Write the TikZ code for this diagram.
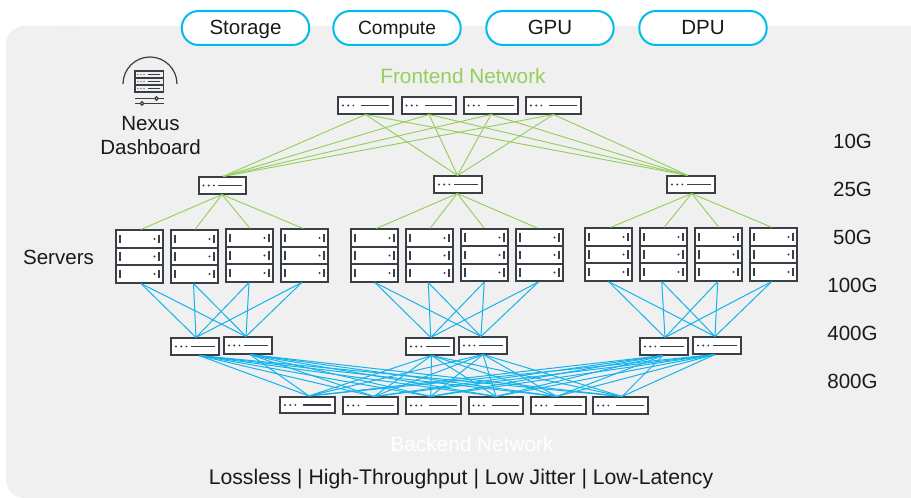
\documentclass[tikz,border=0pt]{standalone}
\usepackage{fontspec}
\setmainfont{Liberation Sans}
\definecolor{panel}{HTML}{F0F0F0}
\definecolor{pillc}{HTML}{00BCEB}
\definecolor{greenl}{HTML}{94CF5C}
\definecolor{bluel}{HTML}{14B3EC}
\definecolor{frameg}{HTML}{3A3F45}
\definecolor{ink}{HTML}{1A1A1A}
\tikzset{
 pill/.style={draw=pillc,line width=1.5pt,fill=white,rounded corners=12.5pt,minimum width=95.5pt,minimum height=25.5pt,inner sep=0pt,font=\fontsize{15.4}{17}\selectfont,text=ink,text height=11pt,text depth=1.2pt},
 lbl/.style={font=\fontsize{15.4}{17}\selectfont,text=ink,inner sep=0pt,text height=11pt,text depth=1.2pt},
 swbox/.style={draw=frameg,line width=1.35pt,fill=white,inner sep=0pt},
 unit/.style={swbox,minimum width=35.5pt,minimum height=13pt},
 glink/.style={draw=greenl,line width=0.7pt},
 blink/.style={draw=bluel,line width=0.75pt},
}
\newcommand{\swdraw}[4]{% name cx cy w(px)
 \node[swbox,minimum width=#4*0.75pt-1.2pt,minimum height=12.2pt] (#1) at (#2+0.5,#3) {};
 \fill[frameg] (#1.west)++(4.2pt,0) circle (0.8pt) ++(3.9pt,0) circle (0.8pt) ++(3.9pt,0) circle (0.8pt);
 \draw[frameg,line width=1.4pt] (#1.east)++(-3.6pt,0) -- ++(-#4*0.37pt,0);
}
\newcommand{\unitdraw}[3]{% name cx cy
 \node[unit] (#1) at (#2,#3) {};
 \draw[frameg,line width=1.2pt] (#1.west)++(3.7pt,-3.1pt) -- ++(0,6.2pt);
 \draw[frameg,line width=1.2pt] (#1.east)++(-3.7pt,-3.1pt) -- ++(0,6.2pt);
 \fill[frameg] (#1.east)++(-7.2pt,0) circle (0.9pt);
}
\newcommand{\rackdraw}[3]{% name cx top
 \unitdraw{#1a}{#2}{#3+9}
 \unitdraw{#1b}{#2}{#3+26.5}
 \unitdraw{#1c}{#2}{#3+44}
}
\begin{document}
\begin{tikzpicture}[x=0.75pt,y=-0.75pt]
\useasboundingbox (0,0) rectangle (911,498);
\fill[panel,rounded corners=14pt] (6,26) rectangle (100,498);
\fill[panel,rounded corners=3pt] (50,26) rectangle (914,520);
\foreach \n/\t/\x in {p1/Storage/245.5,p3/GPU/550,p4/DPU/703}
  \node[pill] (\n) at (\x,28) {\t};
\node[pill,font=\fontsize{14.4}{16}\selectfont] (p2) at (397,28) {Compute};
% top switches
\swdraw{t1}{365}{105.5}{56}
\swdraw{t2}{428.5}{105.5}{56}
\swdraw{t3}{490.5}{105.5}{56}
\swdraw{t4}{553}{105.5}{56}
% mid switches
\swdraw{m1}{222}{185.5}{49}
\swdraw{m2}{457.5}{184.5}{49}
\swdraw{m3}{690.5}{184.5}{49}
% racks
\rackdraw{ra}{139.5}{230}
\rackdraw{rb}{194.5}{230}
\rackdraw{rc}{249.5}{229}
\rackdraw{rd}{304.5}{229}
\rackdraw{re}{374.5}{229}
\rackdraw{rf}{429.5}{229}
\rackdraw{rg}{484.5}{228.5}
\rackdraw{rh}{539.5}{228.5}
\rackdraw{ri}{608.5}{228}
\rackdraw{rj}{663.5}{228}
\rackdraw{rk}{718.5}{228}
\rackdraw{rl}{773.5}{228}
% leaves
\swdraw{l1}{194.5}{346.5}{49}
\swdraw{l2}{247.5}{345.5}{49}
\swdraw{l3}{429.5}{346.5}{49}
\swdraw{l4}{482.5}{345.5}{49}
\swdraw{l5}{663.5}{346.5}{49}
\swdraw{l6}{716.5}{345.5}{49}
% spines
\swdraw{s1}{307}{405}{56}
\swdraw{s2}{370}{405.5}{56}
\swdraw{s3}{433}{405.5}{56}
\swdraw{s4}{495.5}{405.5}{56}
\swdraw{s5}{558}{405.5}{56}
\swdraw{s6}{620}{405.5}{56}
% attachment points
\foreach \r/\g/\d in {ra/1.5/1.5,rb/.5/-1,rc/.5/-.5,rd/-1.5/-2.8,re/2/.5,rf/.5/-1.2,rg/-.5/-.2,rh/-2.5/-1.2,ri/2/0,rj/.5/-1.8,rk/.5/-.8,rl/-1.5/-1.8}{
  \coordinate (\r top) at ([xshift=\g*0.75pt]\r a.north);
  \coordinate (\r bot) at ([xshift=\d*0.75pt]\r c.south);
}
\foreach \l/\u/\d in {l1/1/4,l2/-2/2,l3/.7/1.5,l4/-2/0,l5/1/-1,l6/-2/-2}{
  \coordinate (\l top) at ([xshift=\u*0.75pt]\l.north);
  \coordinate (\l bot) at ([xshift=\d*0.75pt]\l.south);
}
\foreach \s/\d in {s1/1.5,s2/3.5,s3/-2.8,s4/0,s5/-1.8,s6/1.5}
  \coordinate (\s top) at ([xshift=\d*0.75pt]\s.north);
\foreach \m/\u/\d in {m1/.5/-.5,m2/-.5/-.8,m3/-3/.7}{
  \coordinate (\m top) at ([xshift=\u*0.75pt]\m.north);
  \coordinate (\m bot) at ([xshift=\d*0.75pt]\m.south);
}
% links
\foreach \a in {t1,t2,t3,t4} \foreach \b in {m1,m2,m3}
  \draw[glink] (\a.south) -- (\b top);
\foreach \a/\r in {m1/ra,m1/rb,m1/rc,m1/rd,m2/re,m2/rf,m2/rg,m2/rh,m3/ri,m3/rj,m3/rk,m3/rl}
  \draw[glink] (\a bot) -- (\r top);
\foreach \r/\a/\b in {ra/l1/l2,rb/l1/l2,rc/l1/l2,rd/l1/l2,re/l3/l4,rf/l3/l4,rg/l3/l4,rh/l3/l4,ri/l5/l6,rj/l5/l6,rk/l5/l6,rl/l5/l6}{
  \draw[blink] (\r bot) -- (\a top);
  \draw[blink] (\r bot) -- (\b top);
}
\foreach \a in {l1,l2,l3,l4,l5,l6} \foreach \b in {s1,s2,s3,s4,s5,s6}
  \draw[blink] (\a bot) -- (\b top);
% labels
\node[lbl,text=greenl,font=\fontsize{15.6}{17}\selectfont] (fn) at (463,76.5) {Frontend Network};
\node[lbl,text=white,font=\fontsize{15.6}{17}\selectfont] (bn) at (472,444.5) {Backend Network};
\node[lbl,font=\fontsize{15.9}{18}\selectfont] (qual) at (461,477.5) {Lossless | High-Throughput | Low Jitter | Low-Latency};
\node[lbl] (srv) at (58.5,258) {Servers};
\node[lbl] (nd1) at (150.5,123.5) {Nexus};
\node[lbl] (nd2) at (150.5,147.5) {Dashboard};
\foreach \n/\t/\y in {g1/10G/141.5,g2/25G/189.5,g3/50G/237.5,g4/100G/285.5,g5/400G/333.5,g6/800G/381.5}
  \node[lbl] (\n) at (852.5,\y) {\t};
% icon
\draw[frameg,line width=0.9pt] (123,84) arc[start angle=180,end angle=360,radius=27];
\foreach \y in {71,78,85}{
  \draw[frameg,line width=0.9pt] (135,\y) rectangle (163.5,\y+7);
  \fill[frameg] (138,\y+3.5) circle (0.55pt) (141,\y+3.5) circle (0.55pt) (144,\y+3.5) circle (0.55pt);
  \draw[frameg,line width=0.9pt] (148,\y+3.5) -- (160,\y+3.5);
}
\draw[frameg,line width=0.9pt] (135,98.5) -- (164,98.5);
\draw[frameg,line width=0.9pt] (135,103.5) -- (164,103.5);
\draw[frameg,line width=0.9pt,fill=panel] (156.5,98.5) circle (1.7);
\draw[frameg,line width=0.9pt,fill=panel] (142,103.5) circle (1.7);
\end{tikzpicture}
\end{document}
